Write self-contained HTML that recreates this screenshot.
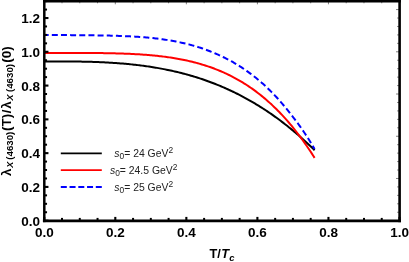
<!DOCTYPE html>
<html><head><meta charset="utf-8">
<style>
html,body{margin:0;padding:0;background:#fff;}
body{width:409px;height:262px;overflow:hidden;font-family:"Liberation Sans",sans-serif;}
svg{display:block;opacity:0.999;will-change:transform;}
text{font-family:"Liberation Sans",sans-serif;}
</style></head><body>
<svg width="409" height="262" viewBox="0 0 409 262">
<defs><filter id="soft" x="-2%" y="-2%" width="104%" height="104%"><feGaussianBlur stdDeviation="0.35"/></filter></defs>
<rect width="409" height="262" fill="#fff"/>
<g filter="url(#soft)">
<path d="M44.25,61.38 L45.61,61.38 L46.97,61.38 L48.33,61.38 L49.68,61.38 L51.04,61.38 L52.40,61.38 L53.76,61.38 L55.12,61.39 L56.48,61.39 L57.84,61.39 L59.19,61.40 L60.55,61.40 L61.91,61.41 L63.27,61.41 L64.63,61.42 L65.99,61.43 L67.34,61.44 L68.70,61.45 L70.06,61.46 L71.42,61.47 L72.78,61.49 L74.14,61.50 L75.50,61.52 L76.85,61.54 L78.21,61.56 L79.57,61.58 L80.93,61.61 L82.29,61.63 L83.65,61.66 L85.01,61.69 L86.36,61.72 L87.72,61.76 L89.08,61.79 L90.44,61.83 L91.80,61.87 L93.16,61.92 L94.52,61.96 L95.87,62.01 L97.23,62.06 L98.59,62.11 L99.95,62.17 L101.31,62.23 L102.67,62.29 L104.02,62.36 L105.38,62.42 L106.74,62.49 L108.10,62.57 L109.46,62.65 L110.82,62.73 L112.18,62.81 L113.53,62.90 L114.89,62.99 L116.25,63.08 L117.61,63.18 L118.97,63.28 L120.33,63.39 L121.69,63.50 L123.04,63.61 L124.40,63.72 L125.76,63.85 L127.12,63.97 L128.48,64.10 L129.84,64.23 L131.20,64.37 L132.55,64.51 L133.91,64.66 L135.27,64.81 L136.63,64.96 L137.99,65.12 L139.35,65.29 L140.70,65.46 L142.06,65.63 L143.42,65.81 L144.78,66.00 L146.14,66.18 L147.50,66.38 L148.86,66.58 L150.21,66.78 L151.57,66.99 L152.93,67.21 L154.29,67.43 L155.65,67.65 L157.01,67.88 L158.37,68.12 L159.72,68.36 L161.08,68.61 L162.44,68.87 L163.80,69.13 L165.16,69.39 L166.52,69.66 L167.88,69.94 L169.23,70.23 L170.59,70.52 L171.95,70.81 L173.31,71.12 L174.67,71.43 L176.03,71.74 L177.38,72.07 L178.74,72.40 L180.10,72.73 L181.46,73.07 L182.82,73.42 L184.18,73.78 L185.54,74.14 L186.89,74.51 L188.25,74.89 L189.61,75.28 L190.97,75.67 L192.33,76.07 L193.69,76.47 L195.05,76.89 L196.40,77.31 L197.76,77.74 L199.12,78.17 L200.48,78.62 L201.84,79.07 L203.20,79.53 L204.56,80.00 L205.91,80.47 L207.27,80.96 L208.63,81.45 L209.99,81.95 L211.35,82.46 L212.71,82.97 L214.06,83.50 L215.42,84.03 L216.78,84.57 L218.14,85.12 L219.50,85.68 L220.86,86.25 L222.22,86.82 L223.57,87.41 L224.93,88.00 L226.29,88.61 L227.65,89.22 L229.01,89.84 L230.37,90.47 L231.73,91.11 L233.08,91.76 L234.44,92.41 L235.80,93.08 L237.16,93.76 L238.52,94.44 L239.88,95.14 L241.24,95.85 L242.59,96.56 L243.95,97.29 L245.31,98.02 L246.67,98.77 L248.03,99.52 L249.39,100.29 L250.74,101.06 L252.10,101.85 L253.46,102.64 L254.82,103.45 L256.18,104.27 L257.54,105.09 L258.90,105.93 L260.25,106.78 L261.61,107.64 L262.97,108.51 L264.33,109.39 L265.69,110.28 L267.05,111.18 L268.41,112.09 L269.76,113.02 L271.12,113.95 L272.48,114.90 L273.84,115.86 L275.20,116.83 L276.56,117.81 L277.92,118.80 L279.27,119.80 L280.63,120.82 L281.99,121.84 L283.35,122.88 L284.71,123.93 L286.07,125.00 L287.42,126.07 L288.78,127.16 L290.14,128.25 L291.50,129.36 L292.86,130.49 L294.22,131.62 L295.58,132.77 L296.93,133.93 L298.29,135.10 L299.65,136.29 L301.01,137.48 L302.37,138.69 L303.73,139.92 L305.09,141.15 L306.44,142.40 L307.80,143.66 L309.16,144.93 L310.52,146.22 L311.88,147.52 L313.24,148.84 L314.60,150.16" fill="none" stroke="#000" stroke-width="2"/>
<path d="M44.25,52.91 L45.61,52.91 L46.97,52.91 L48.33,52.91 L49.68,52.91 L51.04,52.91 L52.40,52.91 L53.76,52.91 L55.12,52.91 L56.48,52.91 L57.84,52.91 L59.19,52.91 L60.55,52.91 L61.91,52.91 L63.27,52.91 L64.63,52.91 L65.99,52.91 L67.34,52.91 L68.70,52.92 L70.06,52.92 L71.42,52.92 L72.78,52.92 L74.14,52.92 L75.50,52.93 L76.85,52.93 L78.21,52.93 L79.57,52.94 L80.93,52.94 L82.29,52.94 L83.65,52.95 L85.01,52.96 L86.36,52.96 L87.72,52.97 L89.08,52.98 L90.44,52.99 L91.80,53.00 L93.16,53.01 L94.52,53.02 L95.87,53.03 L97.23,53.04 L98.59,53.06 L99.95,53.07 L101.31,53.09 L102.67,53.11 L104.02,53.13 L105.38,53.15 L106.74,53.17 L108.10,53.20 L109.46,53.22 L110.82,53.25 L112.18,53.28 L113.53,53.31 L114.89,53.34 L116.25,53.38 L117.61,53.41 L118.97,53.45 L120.33,53.49 L121.69,53.54 L123.04,53.58 L124.40,53.63 L125.76,53.68 L127.12,53.74 L128.48,53.80 L129.84,53.86 L131.20,53.92 L132.55,53.99 L133.91,54.05 L135.27,54.13 L136.63,54.20 L137.99,54.28 L139.35,54.37 L140.70,54.45 L142.06,54.54 L143.42,54.64 L144.78,54.74 L146.14,54.84 L147.50,54.95 L148.86,55.06 L150.21,55.18 L151.57,55.30 L152.93,55.43 L154.29,55.56 L155.65,55.69 L157.01,55.84 L158.37,55.98 L159.72,56.14 L161.08,56.29 L162.44,56.46 L163.80,56.63 L165.16,56.80 L166.52,56.99 L167.88,57.17 L169.23,57.37 L170.59,57.57 L171.95,57.78 L173.31,58.00 L174.67,58.22 L176.03,58.45 L177.38,58.69 L178.74,58.93 L180.10,59.18 L181.46,59.44 L182.82,59.71 L184.18,59.99 L185.54,60.28 L186.89,60.57 L188.25,60.87 L189.61,61.19 L190.97,61.51 L192.33,61.84 L193.69,62.18 L195.05,62.53 L196.40,62.89 L197.76,63.26 L199.12,63.64 L200.48,64.03 L201.84,64.43 L203.20,64.84 L204.56,65.26 L205.91,65.70 L207.27,66.14 L208.63,66.60 L209.99,67.07 L211.35,67.55 L212.71,68.04 L214.06,68.55 L215.42,69.07 L216.78,69.60 L218.14,70.15 L219.50,70.70 L220.86,71.27 L222.22,71.86 L223.57,72.46 L224.93,73.07 L226.29,73.70 L227.65,74.34 L229.01,75.00 L230.37,75.67 L231.73,76.36 L233.08,77.06 L234.44,77.78 L235.80,78.52 L237.16,79.27 L238.52,80.04 L239.88,80.82 L241.24,81.63 L242.59,82.45 L243.95,83.28 L245.31,84.14 L246.67,85.01 L248.03,85.90 L249.39,86.81 L250.74,87.74 L252.10,88.69 L253.46,89.66 L254.82,90.64 L256.18,91.65 L257.54,92.68 L258.90,93.72 L260.25,94.79 L261.61,95.88 L262.97,96.99 L264.33,98.12 L265.69,99.28 L267.05,100.45 L268.41,101.65 L269.76,102.87 L271.12,104.11 L272.48,105.38 L273.84,106.67 L275.20,107.99 L276.56,109.32 L277.92,110.69 L279.27,112.07 L280.63,113.49 L281.99,114.92 L283.35,116.39 L284.71,117.88 L286.07,119.39 L287.42,120.94 L288.78,122.51 L290.14,124.10 L291.50,125.73 L292.86,127.38 L294.22,129.06 L295.58,130.77 L296.93,132.50 L298.29,134.27 L299.65,136.07 L301.01,137.89 L302.37,139.75 L303.73,141.64 L305.09,143.55 L306.44,145.50 L307.80,147.48 L309.16,149.49 L310.52,151.54 L311.88,153.61 L313.24,155.72 L314.60,157.86" fill="none" stroke="#f00" stroke-width="2"/>
<path d="M44.25,34.99 L45.61,35.00 L46.97,35.00 L48.33,35.01 L49.68,35.02 L51.04,35.02 L52.40,35.03 L53.76,35.03 L55.12,35.04 L56.48,35.05 L57.84,35.05 L59.19,35.06 L60.55,35.07 L61.91,35.07 L63.27,35.08 L64.63,35.09 L65.99,35.10 L67.34,35.10 L68.70,35.11 L70.06,35.12 L71.42,35.13 L72.78,35.13 L74.14,35.14 L75.50,35.15 L76.85,35.16 L78.21,35.17 L79.57,35.18 L80.93,35.19 L82.29,35.20 L83.65,35.22 L85.01,35.23 L86.36,35.24 L87.72,35.25 L89.08,35.27 L90.44,35.28 L91.80,35.30 L93.16,35.32 L94.52,35.34 L95.87,35.35 L97.23,35.37 L98.59,35.40 L99.95,35.42 L101.31,35.44 L102.67,35.47 L104.02,35.49 L105.38,35.52 L106.74,35.55 L108.10,35.58 L109.46,35.61 L110.82,35.65 L112.18,35.68 L113.53,35.72 L114.89,35.76 L116.25,35.81 L117.61,35.85 L118.97,35.90 L120.33,35.95 L121.69,36.00 L123.04,36.05 L124.40,36.11 L125.76,36.17 L127.12,36.23 L128.48,36.30 L129.84,36.37 L131.20,36.44 L132.55,36.51 L133.91,36.59 L135.27,36.67 L136.63,36.76 L137.99,36.85 L139.35,36.94 L140.70,37.04 L142.06,37.14 L143.42,37.24 L144.78,37.35 L146.14,37.47 L147.50,37.59 L148.86,37.71 L150.21,37.84 L151.57,37.97 L152.93,38.11 L154.29,38.26 L155.65,38.41 L157.01,38.57 L158.37,38.73 L159.72,38.91 L161.08,39.09 L162.44,39.27 L163.80,39.46 L165.16,39.66 L166.52,39.87 L167.88,40.08 L169.23,40.30 L170.59,40.53 L171.95,40.77 L173.31,41.01 L174.67,41.27 L176.03,41.53 L177.38,41.80 L178.74,42.08 L180.10,42.36 L181.46,42.66 L182.82,42.96 L184.18,43.28 L185.54,43.60 L186.89,43.93 L188.25,44.27 L189.61,44.62 L190.97,44.99 L192.33,45.36 L193.69,45.74 L195.05,46.13 L196.40,46.53 L197.76,46.95 L199.12,47.37 L200.48,47.81 L201.84,48.26 L203.20,48.73 L204.56,49.21 L205.91,49.70 L207.27,50.21 L208.63,50.73 L209.99,51.26 L211.35,51.81 L212.71,52.36 L214.06,52.93 L215.42,53.51 L216.78,54.10 L218.14,54.70 L219.50,55.31 L220.86,55.93 L222.22,56.57 L223.57,57.23 L224.93,57.90 L226.29,58.58 L227.65,59.28 L229.01,60.00 L230.37,60.73 L231.73,61.48 L233.08,62.24 L234.44,63.02 L235.80,63.82 L237.16,64.64 L238.52,65.47 L239.88,66.32 L241.24,67.19 L242.59,68.08 L243.95,68.99 L245.31,69.92 L246.67,70.87 L248.03,71.83 L249.39,72.82 L250.74,73.83 L252.10,74.86 L253.46,75.91 L254.82,76.97 L256.18,78.07 L257.54,79.18 L258.90,80.31 L260.25,81.47 L261.61,82.65 L262.97,83.85 L264.33,85.08 L265.69,86.33 L267.05,87.61 L268.41,88.91 L269.76,90.24 L271.12,91.59 L272.48,92.97 L273.84,94.38 L275.20,95.82 L276.56,97.29 L277.92,98.78 L279.27,100.30 L280.63,101.84 L281.99,103.41 L283.35,105.01 L284.71,106.63 L286.07,108.28 L287.42,109.95 L288.78,111.65 L290.14,113.34 L291.50,115.05 L292.86,116.77 L294.22,118.52 L295.58,120.31 L296.93,122.13 L298.29,123.98 L299.65,125.86 L301.01,127.77 L302.37,129.72 L303.73,131.70 L305.09,133.73 L306.44,135.79 L307.80,137.89 L309.16,140.03 L310.52,142.21 L311.88,144.42 L313.24,146.67 L314.60,148.97" fill="none" stroke="#00f" stroke-width="2" stroke-dasharray="6.000,3.157" stroke-dashoffset="1.6"/>
<g stroke="#000" stroke-linecap="square">
<line x1="44.3" y1="1.15" x2="44.3" y2="220.9" stroke-width="2.5"/>
<line x1="399.6" y1="1.15" x2="399.6" y2="220.9" stroke-width="2.6"/>
<line x1="44.3" y1="1.15" x2="399.6" y2="1.15" stroke-width="2.5"/>
<line x1="44.3" y1="220.9" x2="399.6" y2="220.9" stroke-width="2.8"/>
</g>
<g stroke="#000">
<line x1="44.25" y1="220.70" x2="44.25" y2="216.90" stroke-width="2.1"/>
<line x1="44.25" y1="1.10" x2="44.25" y2="4.30" stroke-width="0.5"/>
<line x1="62.01" y1="220.70" x2="62.01" y2="217.90" stroke-width="2.0"/>
<line x1="62.01" y1="1.10" x2="62.01" y2="3.30" stroke-width="0.5"/>
<line x1="79.78" y1="220.70" x2="79.78" y2="217.90" stroke-width="2.0"/>
<line x1="79.78" y1="1.10" x2="79.78" y2="3.30" stroke-width="0.5"/>
<line x1="97.54" y1="220.70" x2="97.54" y2="217.90" stroke-width="2.0"/>
<line x1="97.54" y1="1.10" x2="97.54" y2="3.30" stroke-width="0.5"/>
<line x1="115.30" y1="220.70" x2="115.30" y2="216.90" stroke-width="2.1"/>
<line x1="115.30" y1="1.10" x2="115.30" y2="4.30" stroke-width="0.5"/>
<line x1="133.06" y1="220.70" x2="133.06" y2="217.90" stroke-width="2.0"/>
<line x1="133.06" y1="1.10" x2="133.06" y2="3.30" stroke-width="0.5"/>
<line x1="150.82" y1="220.70" x2="150.82" y2="217.90" stroke-width="2.0"/>
<line x1="150.82" y1="1.10" x2="150.82" y2="3.30" stroke-width="0.5"/>
<line x1="168.59" y1="220.70" x2="168.59" y2="217.90" stroke-width="2.0"/>
<line x1="168.59" y1="1.10" x2="168.59" y2="3.30" stroke-width="0.5"/>
<line x1="186.35" y1="220.70" x2="186.35" y2="216.90" stroke-width="2.1"/>
<line x1="186.35" y1="1.10" x2="186.35" y2="4.30" stroke-width="0.5"/>
<line x1="204.11" y1="220.70" x2="204.11" y2="217.90" stroke-width="2.0"/>
<line x1="204.11" y1="1.10" x2="204.11" y2="3.30" stroke-width="0.5"/>
<line x1="221.88" y1="220.70" x2="221.88" y2="217.90" stroke-width="2.0"/>
<line x1="221.88" y1="1.10" x2="221.88" y2="3.30" stroke-width="0.5"/>
<line x1="239.64" y1="220.70" x2="239.64" y2="217.90" stroke-width="2.0"/>
<line x1="239.64" y1="1.10" x2="239.64" y2="3.30" stroke-width="0.5"/>
<line x1="257.40" y1="220.70" x2="257.40" y2="216.90" stroke-width="2.1"/>
<line x1="257.40" y1="1.10" x2="257.40" y2="4.30" stroke-width="0.5"/>
<line x1="275.16" y1="220.70" x2="275.16" y2="217.90" stroke-width="2.0"/>
<line x1="275.16" y1="1.10" x2="275.16" y2="3.30" stroke-width="0.5"/>
<line x1="292.92" y1="220.70" x2="292.92" y2="217.90" stroke-width="2.0"/>
<line x1="292.92" y1="1.10" x2="292.92" y2="3.30" stroke-width="0.5"/>
<line x1="310.69" y1="220.70" x2="310.69" y2="217.90" stroke-width="2.0"/>
<line x1="310.69" y1="1.10" x2="310.69" y2="3.30" stroke-width="0.5"/>
<line x1="328.45" y1="220.70" x2="328.45" y2="216.90" stroke-width="2.1"/>
<line x1="328.45" y1="1.10" x2="328.45" y2="4.30" stroke-width="0.5"/>
<line x1="346.21" y1="220.70" x2="346.21" y2="217.90" stroke-width="2.0"/>
<line x1="346.21" y1="1.10" x2="346.21" y2="3.30" stroke-width="0.5"/>
<line x1="363.98" y1="220.70" x2="363.98" y2="217.90" stroke-width="2.0"/>
<line x1="363.98" y1="1.10" x2="363.98" y2="3.30" stroke-width="0.5"/>
<line x1="381.74" y1="220.70" x2="381.74" y2="217.90" stroke-width="2.0"/>
<line x1="381.74" y1="1.10" x2="381.74" y2="3.30" stroke-width="0.5"/>
<line x1="399.50" y1="220.70" x2="399.50" y2="216.90" stroke-width="2.1"/>
<line x1="399.50" y1="1.10" x2="399.50" y2="4.30" stroke-width="0.5"/>
<line x1="44.25" y1="220.70" x2="48.45" y2="220.70" stroke-width="2.1"/>
<line x1="399.50" y1="220.70" x2="396.00" y2="220.70" stroke-width="0.5"/>
<line x1="44.25" y1="212.25" x2="47.05" y2="212.25" stroke-width="2.0"/>
<line x1="399.50" y1="212.25" x2="397.10" y2="212.25" stroke-width="0.5"/>
<line x1="44.25" y1="203.81" x2="47.05" y2="203.81" stroke-width="2.0"/>
<line x1="399.50" y1="203.81" x2="397.10" y2="203.81" stroke-width="0.5"/>
<line x1="44.25" y1="195.36" x2="47.05" y2="195.36" stroke-width="2.0"/>
<line x1="399.50" y1="195.36" x2="397.10" y2="195.36" stroke-width="0.5"/>
<line x1="44.25" y1="186.92" x2="48.45" y2="186.92" stroke-width="2.1"/>
<line x1="399.50" y1="186.92" x2="397.10" y2="186.92" stroke-width="0.5"/>
<line x1="44.25" y1="178.47" x2="47.05" y2="178.47" stroke-width="2.0"/>
<line x1="399.50" y1="178.47" x2="396.00" y2="178.47" stroke-width="0.5"/>
<line x1="44.25" y1="170.03" x2="47.05" y2="170.03" stroke-width="2.0"/>
<line x1="399.50" y1="170.03" x2="397.10" y2="170.03" stroke-width="0.5"/>
<line x1="44.25" y1="161.58" x2="47.05" y2="161.58" stroke-width="2.0"/>
<line x1="399.50" y1="161.58" x2="397.10" y2="161.58" stroke-width="0.5"/>
<line x1="44.25" y1="153.14" x2="48.45" y2="153.14" stroke-width="2.1"/>
<line x1="399.50" y1="153.14" x2="397.10" y2="153.14" stroke-width="0.5"/>
<line x1="44.25" y1="144.69" x2="47.05" y2="144.69" stroke-width="2.0"/>
<line x1="399.50" y1="144.69" x2="397.10" y2="144.69" stroke-width="0.5"/>
<line x1="44.25" y1="136.25" x2="47.05" y2="136.25" stroke-width="2.0"/>
<line x1="399.50" y1="136.25" x2="396.00" y2="136.25" stroke-width="0.5"/>
<line x1="44.25" y1="127.80" x2="47.05" y2="127.80" stroke-width="2.0"/>
<line x1="399.50" y1="127.80" x2="397.10" y2="127.80" stroke-width="0.5"/>
<line x1="44.25" y1="119.36" x2="48.45" y2="119.36" stroke-width="2.1"/>
<line x1="399.50" y1="119.36" x2="397.10" y2="119.36" stroke-width="0.5"/>
<line x1="44.25" y1="110.91" x2="47.05" y2="110.91" stroke-width="2.0"/>
<line x1="399.50" y1="110.91" x2="397.10" y2="110.91" stroke-width="0.5"/>
<line x1="44.25" y1="102.47" x2="47.05" y2="102.47" stroke-width="2.0"/>
<line x1="399.50" y1="102.47" x2="397.10" y2="102.47" stroke-width="0.5"/>
<line x1="44.25" y1="94.02" x2="47.05" y2="94.02" stroke-width="2.0"/>
<line x1="399.50" y1="94.02" x2="396.00" y2="94.02" stroke-width="0.5"/>
<line x1="44.25" y1="85.58" x2="48.45" y2="85.58" stroke-width="2.1"/>
<line x1="399.50" y1="85.58" x2="397.10" y2="85.58" stroke-width="0.5"/>
<line x1="44.25" y1="77.13" x2="47.05" y2="77.13" stroke-width="2.0"/>
<line x1="399.50" y1="77.13" x2="397.10" y2="77.13" stroke-width="0.5"/>
<line x1="44.25" y1="68.69" x2="47.05" y2="68.69" stroke-width="2.0"/>
<line x1="399.50" y1="68.69" x2="397.10" y2="68.69" stroke-width="0.5"/>
<line x1="44.25" y1="60.24" x2="47.05" y2="60.24" stroke-width="2.0"/>
<line x1="399.50" y1="60.24" x2="397.10" y2="60.24" stroke-width="0.5"/>
<line x1="44.25" y1="51.80" x2="48.45" y2="51.80" stroke-width="2.1"/>
<line x1="399.50" y1="51.80" x2="396.00" y2="51.80" stroke-width="0.5"/>
<line x1="44.25" y1="43.35" x2="47.05" y2="43.35" stroke-width="2.0"/>
<line x1="399.50" y1="43.35" x2="397.10" y2="43.35" stroke-width="0.5"/>
<line x1="44.25" y1="34.91" x2="47.05" y2="34.91" stroke-width="2.0"/>
<line x1="399.50" y1="34.91" x2="397.10" y2="34.91" stroke-width="0.5"/>
<line x1="44.25" y1="26.46" x2="47.05" y2="26.46" stroke-width="2.0"/>
<line x1="399.50" y1="26.46" x2="397.10" y2="26.46" stroke-width="0.5"/>
<line x1="44.25" y1="18.02" x2="48.45" y2="18.02" stroke-width="2.1"/>
<line x1="399.50" y1="18.02" x2="397.10" y2="18.02" stroke-width="0.5"/>
<line x1="44.25" y1="9.57" x2="47.05" y2="9.57" stroke-width="2.0"/>
<line x1="399.50" y1="9.57" x2="396.00" y2="9.57" stroke-width="0.5"/>
<line x1="44.25" y1="1.13" x2="47.05" y2="1.13" stroke-width="2.0"/>
<line x1="399.50" y1="1.13" x2="397.10" y2="1.13" stroke-width="0.5"/>
</g>
<line x1="60.8" y1="153.3" x2="101.8" y2="153.3" stroke="#000" stroke-width="1.8"/>
<line x1="60.8" y1="170.1" x2="101.8" y2="170.1" stroke="#f00" stroke-width="1.8"/>
<line x1="60.8" y1="187" x2="101.8" y2="187" stroke="#00f" stroke-width="1.8" stroke-dasharray="6,2.75"/>
<g font-size="10.4" fill="#222" text-anchor="middle">
<text x="143.7" y="157.0"><tspan font-style="italic">s</tspan><tspan font-size="8.4" dy="2.2">0</tspan><tspan dy="-2.2">= 24 GeV</tspan><tspan font-size="8.4" dy="-3.6">2</tspan></text><text x="143.7" y="173.5"><tspan font-style="italic">s</tspan><tspan font-size="8.4" dy="2.2">0</tspan><tspan dy="-2.2">= 24.5 GeV</tspan><tspan font-size="8.4" dy="-3.6">2</tspan></text><text x="143.7" y="190.5"><tspan font-style="italic">s</tspan><tspan font-size="8.4" dy="2.2">0</tspan><tspan dy="-2.2">= 25 GeV</tspan><tspan font-size="8.4" dy="-3.6">2</tspan></text>
</g>
<g font-size="13.5" font-weight="bold" fill="#000" text-anchor="end"><text x="40.1" y="225.8">0.0</text><text x="40.1" y="192.0">0.2</text><text x="40.1" y="158.2">0.4</text><text x="40.1" y="124.4">0.6</text><text x="40.1" y="90.6">0.8</text><text x="40.1" y="56.8">1.0</text><text x="40.1" y="23.1">1.2</text></g>
<g font-size="13.5" font-weight="bold" fill="#000" text-anchor="middle"><text x="44.4" y="236.8">0.0</text><text x="115.4" y="236.8">0.2</text><text x="186.4" y="236.8">0.4</text><text x="257.5" y="236.8">0.6</text><text x="328.6" y="236.8">0.8</text><text x="399.6" y="236.8">1.0</text></g>
<g font-weight="bold" fill="#000">
<text x="209.4" y="258" font-size="12.8">T/</text>
<text x="221.2" y="258" font-size="12.8" font-style="italic">T</text>
<text x="229.2" y="260.5" font-size="9.5" font-style="italic">c</text>
<text transform="translate(10.60,175.90) rotate(-90)" font-size="13.5">λ</text>
<text transform="translate(13.10,167.80) rotate(-90)" font-size="9" font-style="italic">X</text>
<text transform="translate(13.10,159.70) rotate(-90)" font-size="9.7">(4630)</text>
<text transform="translate(10.60,130.98) rotate(-90)" font-size="13.5">(T)</text>
<text transform="translate(10.60,113.20) rotate(-90)" font-size="13.5">/</text>
<text transform="translate(10.60,108.80) rotate(-90)" font-size="13.5">λ</text>
<text transform="translate(13.10,100.45) rotate(-90)" font-size="9" font-style="italic">X</text>
<text transform="translate(13.10,92.00) rotate(-90)" font-size="9.7">(4630)</text>
<text transform="translate(10.60,62.70) rotate(-90)" font-size="13.5">(0)</text>
</g>
</g>
</svg>
</body></html>
